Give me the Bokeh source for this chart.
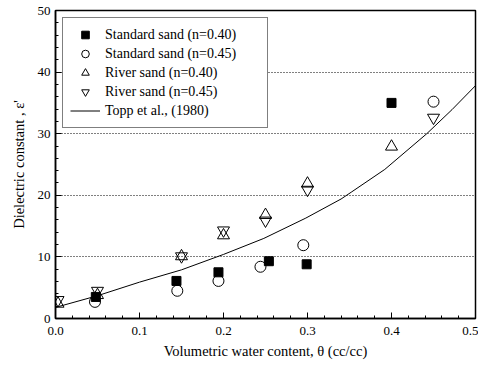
from bokeh.plotting import figure
from bokeh.models import Range1d, SingleIntervalTicker, NumeralTickFormatter, Legend, LegendItem
from bokeh.embed import file_html
from bokeh.resources import INLINE

# Data
theta_std40 = [0.048, 0.144, 0.194, 0.254, 0.299, 0.40]
eps_std40 = [3.5, 6.1, 7.5, 9.3, 8.8, 35.0]
theta_std45 = [0.047, 0.145, 0.194, 0.244, 0.295, 0.45]
eps_std45 = [2.7, 4.5, 6.1, 8.4, 11.9, 35.2]
theta_riv40 = [0.003, 0.05, 0.15, 0.2, 0.25, 0.3, 0.4]
eps_riv40 = [2.4, 3.8, 10.1, 13.5, 16.8, 21.9, 27.9]
theta_riv45 = [0.003, 0.05, 0.15, 0.2, 0.25, 0.3, 0.45]
eps_riv45 = [3.0, 4.5, 10.1, 14.3, 15.9, 20.9, 32.6]
topp_theta = [0.0, 0.05, 0.1, 0.15, 0.2, 0.248, 0.298, 0.34, 0.352, 0.392, 0.442, 0.472, 0.5]
topp_eps = [1.8, 3.7, 5.9, 7.9, 10.4, 13.0, 16.3, 19.4, 20.5, 24.2, 30.0, 33.9, 37.8]

labels = ["Standard sand (n=0.40)", "Standard sand (n=0.45)", "River sand (n=0.40)",
          "River sand (n=0.45)", "Topp et al., (1980)"]
x_title = "Volumetric water content, \u03b8 (cc/cc)"
y_title = "Dielectric constant , \u03b5'"

FONT = "'Liberation Serif', serif"

p = figure(width=478, height=367, output_backend="svg", toolbar_location=None,
           x_range=Range1d(0, 0.5), y_range=Range1d(0, 50),
           min_border_left=55, min_border_right=3, min_border_top=10, min_border_bottom=49)

p.background_fill_color = "white"
p.border_fill_color = "white"
p.outline_line_color = "black"
p.outline_line_width = 1.5

r_topp = p.line(topp_theta, topp_eps, line_color="black", line_width=1)
r1 = p.scatter(theta_std40, eps_std40, marker="square", size=9, fill_color="black", line_color="black")
r2 = p.scatter(theta_std45, eps_std45, marker="circle", size=11, fill_color=None, line_color="black", line_width=1)
r3 = p.scatter(theta_riv40, eps_riv40, marker="triangle", size=12, fill_color=None, line_color="black", line_width=1)
r4 = p.scatter(theta_riv45, eps_riv45, marker="inverted_triangle", size=12, fill_color=None, line_color="black", line_width=1)

# axes
p.xaxis.ticker = SingleIntervalTicker(interval=0.1, num_minor_ticks=5)
p.yaxis.ticker = SingleIntervalTicker(interval=10, num_minor_ticks=5)
p.xaxis.formatter = NumeralTickFormatter(format="0.0")
for ax in (p.xaxis, p.yaxis):
    ax.major_tick_in = 6
    ax.major_tick_out = 0
    ax.minor_tick_in = 3
    ax.minor_tick_out = 0
    ax.axis_line_width = 1.5
    ax.axis_line_color = "black"
    ax.major_tick_line_color = "black"
    ax.minor_tick_line_color = "black"
    ax.major_label_text_font = FONT
    ax.major_label_text_font_size = "13px"
    ax.major_label_text_color = "black"
    ax.axis_label_text_font = FONT
    ax.axis_label_text_font_size = "14.5px"
    ax.axis_label_text_font_style = "normal"
    ax.axis_label_text_color = "black"
p.xaxis.axis_label = x_title
p.yaxis.axis_label = y_title
p.xaxis.major_label_standoff = 8
p.xaxis.axis_label_standoff = 5
p.yaxis.major_label_standoff = 5
p.yaxis.axis_label_standoff = 8

p.xgrid.grid_line_color = None
p.ygrid.grid_line_color = "black"
p.ygrid.grid_line_dash = "1 2"
p.ygrid.grid_line_width = 1

legend = Legend(items=[
    LegendItem(label=labels[0], renderers=[r1]),
    LegendItem(label=labels[1], renderers=[r2]),
    LegendItem(label=labels[2], renderers=[r3]),
    LegendItem(label=labels[3], renderers=[r4]),
    LegendItem(label=labels[4], renderers=[r_topp]),
], location="top_left")
legend.margin = 7
legend.padding = 7
legend.spacing = 0
legend.label_height = 19
legend.glyph_height = 19
legend.glyph_width = 30
legend.label_width = 155
legend.label_standoff = 5
legend.label_text_font = FONT
legend.label_text_font_size = "14px"
legend.label_text_color = "black"
legend.border_line_color = "black"
legend.border_line_width = 1
legend.background_fill_color = "white"
legend.background_fill_alpha = 1
p.add_layout(legend)

open("out.html", "w").write(file_html(p, INLINE))
